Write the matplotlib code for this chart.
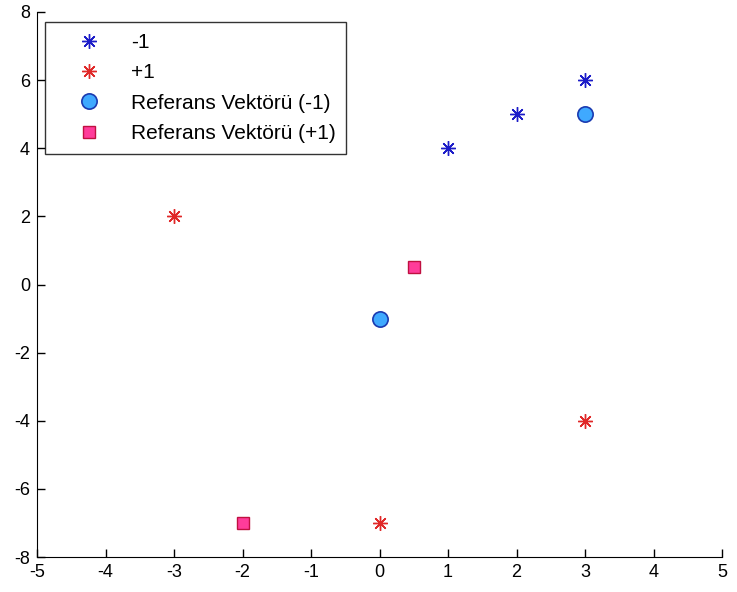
import matplotlib.pyplot as plt

plt.rcParams['font.family'] = ['Liberation Sans', 'DejaVu Sans']
plt.rcParams['axes.unicode_minus'] = False

# class -1 samples
neg_x = [1, 2, 3]
neg_y = [4, 5, 6]
# class +1 samples
pos_x = [-3, 0, 3]
pos_y = [2, -7, -4]
# reference vectors
ref_neg_x = [0, 3]
ref_neg_y = [-1, 5]
ref_pos_x = [0.5, -2]
ref_pos_y = [0.5, -7]

labels = ["-1", "+1", "Referans Vektörü (-1)", "Referans Vektörü (+1)"]
x_ticks = list(range(-5, 6))
y_ticks = list(range(-8, 9, 2))

fig = plt.figure(figsize=(7.37, 5.92), dpi=100)
ax = fig.add_axes([37 / 737, 35 / 592, 685 / 737, 545 / 592])

star = (8, 2, 0)
ax.plot(neg_x, neg_y, linestyle="none", marker=star, markersize=10.5,
        markeredgewidth=1.0, color="#1c1cc8", label=labels[0])
ax.plot(pos_x, pos_y, linestyle="none", marker=star, markersize=10.5,
        markeredgewidth=1.0, color="#e02828", label=labels[1])
ax.plot(ref_neg_x, ref_neg_y, linestyle="none", marker="o", markersize=11,
        markerfacecolor="#3fa9ff", markeredgecolor="#1a3ab0",
        markeredgewidth=1.2, label=labels[2])
ax.plot(ref_pos_x, ref_pos_y, linestyle="none", marker="s", markersize=9,
        markerfacecolor="#ff3c9a", markeredgecolor="#c01040",
        markeredgewidth=1.0, label=labels[3])

ax.set_xlim(-5, 5)
ax.set_ylim(-8, 8)
ax.set_xticks(x_ticks)
ax.set_yticks(y_ticks)
ax.tick_params(direction="in", length=6, labelsize=13, width=1, pad=5)
ax.spines["top"].set_visible(False)
ax.spines["right"].set_visible(False)

leg = ax.legend(loc="upper left", bbox_to_anchor=(8 / 685, 1 - 10 / 545),
                fontsize=15, frameon=True, fancybox=False, edgecolor="black",
                borderpad=0.52, labelspacing=0.55, handlelength=3.2,
                handletextpad=0.4, borderaxespad=0)
leg.get_frame().set_linewidth(1.0)

fig.savefig("out.png", dpi=100)
